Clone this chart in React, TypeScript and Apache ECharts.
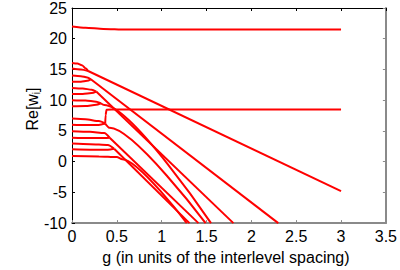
import React, { useEffect, useRef } from "react";
import * as echarts from "echarts";

// Axis settings
const xMin = 0;
const xMax = 3.5;
const xStep = 0.5;
const yMin = -10;
const yMax = 25;
const yStep = 5;

// Curves: [g, Re[w_i]]
const level22 = [[0, 22.0], [0.15, 21.8], [0.35, 21.6], [0.6, 21.5], [3, 21.5]];
const level16 = [[0, 16.05], [0.06, 15.95], [0.11, 15.7], [0.15, 15.2], [0.18, 14.75]];
const level15 = [[0, 15.15], [0.1, 15.0], [0.18, 14.75]];
const pair16_15 = [[0.18, 14.75], [3, -4.8]];
const level14 = [[0, 14.0], [0.1, 13.9], [0.17, 13.7], [0.21, 13.4]];
const level13 = [[0, 13.0], [0.1, 13.0], [0.17, 13.15], [0.21, 13.4]];
const pair14_13 = [[0.21, 13.4], [2.3, -10]];
const level12 = [[0, 12.0], [0.12, 11.9], [0.22, 11.7], [0.27, 11.4]];
const level11 = [[0, 11.0], [0.12, 11.0], [0.22, 11.15], [0.27, 11.4]];
const pair12_11 = [[0.27, 11.4], [1.8, -10]];
const level10 = [[0, 10.0], [0.15, 9.95], [0.27, 9.75], [0.32, 9.5]];
const level9 = [[0, 9.0], [0.15, 9.05], [0.27, 9.25], [0.32, 9.5]];
const pair10_9 = [[0.32, 9.5], [0.36, 9.2], [1.55, -10]];
const level7 = [[0, 7.0], [0.15, 6.9], [0.3, 6.6], [0.37, 6.2]];
const level6 = [[0, 6.0], [0.15, 5.95], [0.3, 5.98], [0.37, 6.2]];
const branchUp = [[0.37, 6.2], [0.375, 7.6], [0.385, 8.45], [0.5, 8.5], [3, 8.5]];
const branchDown = [[0.37, 6.2], [0.42, 5.5], [1.49, -10]];
const level5 = [[0, 4.95], [0.2, 4.85], [0.36, 4.65], [0.42, 3.9]];
const level4 = [[0, 3.9], [0.2, 3.85], [0.36, 3.85], [0.42, 3.9]];
const pair5_4 = [[0.42, 3.9], [1.41, -10]];
const level3 = [[0, 2.95], [0.2, 2.85], [0.4, 2.7], [0.47, 2.1]];
const level2 = [[0, 2.0], [0.2, 1.95], [0.4, 1.95], [0.47, 2.1]];
const pair3_2 = [[0.47, 2.1], [1.31, -10]];
const level1 = [[0, 0.9], [0.3, 0.85], [0.5, 0.75], [0.56, 0.4], [1.28, -10]];

const curves = [
  level22, level16, level15, pair16_15, level14, level13, pair14_13,
  level12, level11, pair12_11, level10, level9, pair10_9,
  level7, level6, branchUp, branchDown, level5, level4, pair5_4,
  level3, level2, pair3_2, level1,
];

const xTitle = "g (in units of the interlevel spacing)";

const FONT = "'Liberation Sans', Arial, Helvetica, sans-serif";

export default function App() {
  const ref = useRef<HTMLDivElement>(null);
  useEffect(() => {
    const chart = echarts.init(ref.current!, null, { renderer: "svg" });
    const baseX = {
      type: "value",
      min: xMin,
      max: xMax,
      interval: xStep,
      splitLine: { show: false },
    };
    const baseY = {
      type: "value",
      min: yMin,
      max: yMax,
      interval: yStep,
      splitLine: { show: false },
    };
    chart.setOption({
      animation: false,
      backgroundColor: "#ffffff",
      grid: { left: 72, right: 12, top: 8, bottom: 39, containLabel: false },
      xAxis: [
        {
          ...baseX,
          position: "bottom",
          axisLine: { show: true, onZero: false, lineStyle: { color: "#8a8a8a", width: 2 } },
          axisTick: { show: true, inside: true, length: 3, lineStyle: { color: "#8a8a8a" } },
          axisLabel: { color: "#000", fontSize: 16, fontFamily: FONT, margin: 5 },
          name: xTitle,
          nameLocation: "middle",
          nameGap: 21,
          nameTextStyle: { color: "#000", fontSize: 16, fontFamily: FONT, padding: [0, 6, 0, 0] },
        },
        {
          ...baseX,
          position: "top",
          axisLine: { show: true, onZero: false, lineStyle: { color: "#000", width: 1 } },
          axisTick: { show: true, inside: true, length: 3, lineStyle: { color: "#000" } },
          axisLabel: { show: false },
        },
      ],
      yAxis: [
        {
          ...baseY,
          position: "left",
          axisLine: { show: true, onZero: false, lineStyle: { color: "#000", width: 1 } },
          axisTick: { show: true, inside: true, length: 3, lineStyle: { color: "#000" } },
          axisLabel: { color: "#000", fontSize: 16, fontFamily: FONT, margin: 5 },
        },
        {
          ...baseY,
          position: "right",
          axisLine: { show: true, onZero: false, lineStyle: { color: "#8a8a8a", width: 2 } },
          axisTick: { show: true, inside: true, length: 3, lineStyle: { color: "#8a8a8a" } },
          axisLabel: { show: false },
        },
      ],
      graphic: [
        {
          type: "text",
          x: 32,
          y: 109,
          rotation: Math.PI / 2,
          style: {
            text: "{a|Re[w}{b|i}{a|]}",
            fill: "#000",
            align: "center",
            verticalAlign: "middle",
            rich: {
              a: { fontSize: 16, fontFamily: FONT, fill: "#000", lineHeight: 20 },
              b: { fontSize: 10, fontFamily: FONT, fill: "#000", lineHeight: 20, padding: [8, 0, 0, 0] },
            },
          },
        },
      ],
      series: curves.map((c) => ({
        type: "line",
        data: c,
        xAxisIndex: 0,
        yAxisIndex: 0,
        showSymbol: false,
        symbol: "none",
        smooth: 0.25,
        smoothMonotone: "x",
        clip: true,
        lineStyle: { color: "#ff0000", width: 2 },
      })),
    });
    return () => chart.dispose();
  }, []);
  return (
    <div
      ref={ref}
      style={{ position: "absolute", left: 0, top: 0, width: 400, height: 270 }}
    />
  );
}
